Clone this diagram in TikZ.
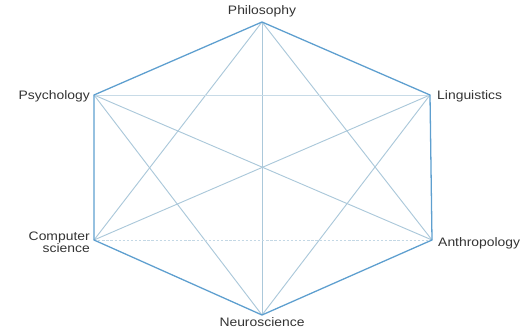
\documentclass[tikz,border=0pt]{standalone}
\usepackage{fontspec}
\setmainfont{Liberation Sans}[FakeStretch=1.13]
\usepackage{xcolor}
\definecolor{Edge}{HTML}{5E9FCF}
\definecolor{Chord}{HTML}{ABC8DA}
\definecolor{Label}{HTML}{333333}

\begin{document}
\begin{tikzpicture}[x=0.03cm,y=-0.03cm]
\tikzset{
  field/.style={font=\fontsize{10.5}{11.5}\selectfont,text=Label,inner sep=0pt},
  rim/.style={Edge,line width=1.1pt},
  chord/.style={Chord,line width=0.8pt},
  faint/.style={Chord!70,line width=0.8pt,dash pattern=on 2pt off 1.5pt}
}
\useasboundingbox (0,0) rectangle (524,329);
\coordinate (phil) at (262,22);
\coordinate (psy) at (94,95);
\coordinate (ling) at (430,95);
\coordinate (cs) at (94,240);
\coordinate (anth) at (432,240);
\coordinate (neuro) at (262,315);
\node[field,anchor=base] (philL) at (262,14) {Philosophy};
\node[field,anchor=east] (psyL) at (90,96) {Psychology};
\node[field,anchor=west] (lingL) at (437,96) {Linguistics};
\node[field,anchor=east,align=right] (csL) at (90,242) {Computer\\[-1.5pt]science};
\node[field,anchor=west] (anthL) at (438,243) {Anthropology};
\node[field,anchor=base] (neuroL) at (262,326.5) {Neuroscience};
% inner chords
\draw[chord] (phil) -- (neuro);
\draw[chord] (psy) -- (anth);
\draw[chord] (ling) -- (cs);
\draw[chord] (phil) -- (cs);
\draw[chord] (phil) -- (anth);
\draw[chord] (psy) -- (neuro);
\draw[chord] (ling) -- (neuro);
\draw[chord,Chord!65] (psy) -- (ling);
\draw[faint] (cs) -- (anth);
% outer hexagon
\draw[rim] (phil) -- (ling) -- (anth) -- (neuro) -- (cs) -- (psy) -- cycle;
\end{tikzpicture}
\end{document}
